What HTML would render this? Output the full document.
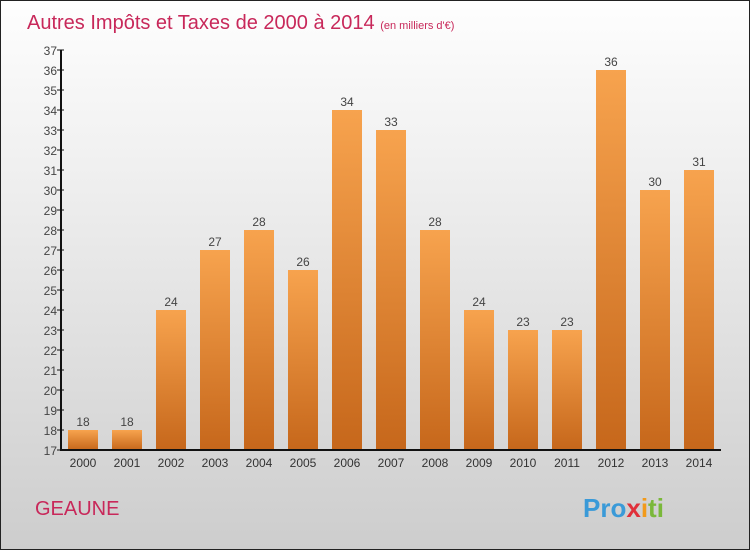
<!DOCTYPE html>
<html><head><meta charset="utf-8"><style>
body{margin:0;}
#wrap{width:748px;height:548px;border:1px solid #222;background:linear-gradient(#fefefe,#f0f0f0 30%,#cdcdcd);position:relative;overflow:hidden;font-family:"Liberation Sans",sans-serif;}
</style></head><body>
<div id="wrap">
<svg id="svg" width="748" height="548">
<defs><linearGradient id="bg" x1="0" y1="0" x2="0" y2="1"><stop offset="0" stop-color="#f7a34e"/><stop offset="1" stop-color="#c6671b"/></linearGradient></defs>
<text x="26" y="28" font-size="20" fill="#c8285a">Autres Impôts et Taxes de 2000 à 2014 <tspan font-size="11">(en milliers d'€)</tspan></text>
<text x="34" y="514" font-size="20" fill="#c8285a">GEAUNE</text>
<text x="582" y="516" font-size="26" font-weight="bold" fill="#3a9ad8">Pro<tspan fill="#e0303a">x</tspan><tspan fill="#f29a1a">i</tspan><tspan fill="#7ab83a">ti</tspan></text>
<g id="g"></g>
</svg>
</div>
<script>
const years=["2000","2001","2002","2003","2004","2005","2006","2007","2008","2009","2010","2011","2012","2013","2014"];
const values=[18,18,24,27,28,26,34,33,28,24,23,23,36,30,31];
const yMin=17,yMax=37;
const g=document.getElementById('g');const NS='http://www.w3.org/2000/svg';
const X0=60,slot=44,Y0=449,Y1=49;
function y(v){return Y0-(v-yMin)*(Y0-Y1)/(yMax-yMin);}
function mk(t,a){const e=document.createElementNS(NS,t);for(const k in a)e.setAttribute(k,a[k]);g.appendChild(e);return e;}
for(let v=yMin;v<=yMax;v++){
 const t=mk('line',{x1:X0-4,x2:X0+3,y1:y(v),y2:y(v),stroke:'#111'});
 
 
 const l=mk('text',{x:X0-4,y:y(v)+5,'text-anchor':'end','font-size':12,fill:'#444'});l.textContent=v;
 
 
}
years.forEach((yr,i)=>{
 const cx=X0+slot*i+22,v=values[i];
 const b=mk('rect',{x:cx-15,y:y(v),width:30,height:Y0-y(v),fill:'url(#bg)'});
 
 
 const vl=mk('text',{x:cx,y:y(v)-4,'text-anchor':'middle','font-size':12,fill:'#444'});vl.textContent=v;
 
 
 const xl=mk('text',{x:cx,y:Y0+17,'text-anchor':'middle','font-size':12,fill:'#333'});xl.textContent=yr;
 
 
});
const ya=mk('line',{x1:X0,x2:X0,y1:Y1,y2:Y0+1,stroke:'#111','stroke-width':2});


const xa=mk('line',{x1:X0,x2:X0+slot*years.length,y1:Y0,y2:Y0,stroke:'#111','stroke-width':2});


</script>
</body></html>
